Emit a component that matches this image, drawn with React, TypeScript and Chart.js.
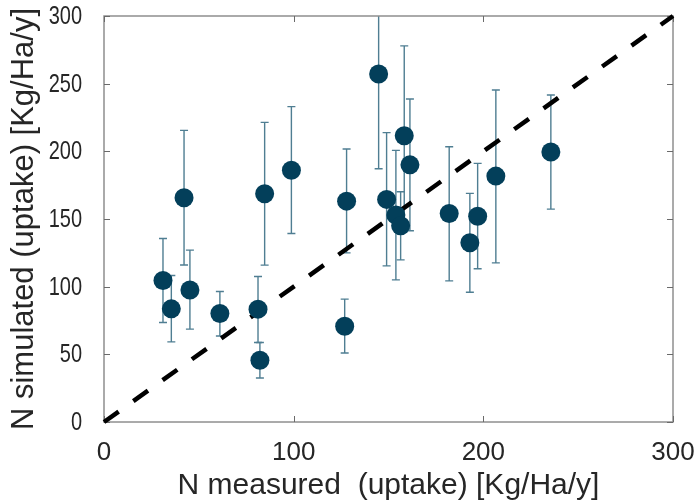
import React, { useEffect, useRef } from "react";
import { Chart, registerables } from "chart.js";

Chart.register(...registerables);

// ---- data ----
const measured = [31.1, 35.5, 42.2, 45.3, 61.1, 81.2, 82.2, 84.7, 98.8, 126.9, 127.9, 144.8, 149.0, 153.9, 156.4, 158.3, 161.3, 182.0, 192.9, 197.0, 206.6, 235.6];
const simulated = [104.6, 83.6, 165.7, 97.6, 80.2, 83.4, 45.6, 168.6, 186.0, 70.8, 163.2, 257.1, 164.5, 152.9, 145.0, 211.5, 190.0, 154.1, 132.4, 152.1, 181.7, 199.5];
const errLow = [73.5, 59.2, 116.0, 68.6, 63.6, 58.7, 32.5, 115.9, 139.3, 51.0, 125.0, 187.1, 115.4, 105.0, 119.8, 145.0, 141.3, 104.3, 95.9, 113.2, 117.6, 157.3];
const errHigh = [135.6, 108.3, 215.5, 127.0, 96.4, 107.5, 58.7, 221.4, 233.0, 90.8, 201.7, 327.0, 213.8, 200.7, 170.1, 277.9, 238.7, 203.4, 168.9, 191.1, 245.3, 241.6];
const identityLine = [0, 300];
const xTickValues = [0, 100, 200, 300];
const yTickValues = [0, 50, 100, 150, 200, 250, 300];
const xTitle = "N measured  (uptake) [Kg/Ha/y]";
const yTitle = "N simulated (uptake) [Kg/Ha/y]";

const TEXT = "#262626";

const errorBars = {
  id: "errorBars",
  beforeDatasetsDraw(chart: any) {
    const { ctx, chartArea: a, scales } = chart;
    const x = scales.x, y = scales.y;
    ctx.save();
    ctx.beginPath();
    ctx.rect(a.left, a.top, a.right - a.left, a.bottom - a.top);
    ctx.clip();
    ctx.strokeStyle = "#4f7e92";
    ctx.lineWidth = 1.4;
    const cap = 4;
    measured.forEach((m, i) => {
      const px = x.getPixelForValue(m);
      const pl = y.getPixelForValue(errLow[i]);
      const ph = y.getPixelForValue(errHigh[i]);
      ctx.beginPath();
      ctx.moveTo(px, pl);
      ctx.lineTo(px, ph);
      ctx.moveTo(px - cap, pl);
      ctx.lineTo(px + cap, pl);
      ctx.moveTo(px - cap, ph);
      ctx.lineTo(px + cap, ph);
      ctx.stroke();
    });
    ctx.restore();

    // frame + inward ticks
    ctx.save();
    ctx.strokeStyle = "#8f8f8f";
    ctx.lineWidth = 1.5;
    ctx.strokeRect(a.left, a.top, a.right - a.left, a.bottom - a.top);
    ctx.strokeStyle = "#6a6a6a";
    ctx.lineWidth = 1;
    const tl = 6;
    ctx.beginPath();
    xTickValues.forEach((v) => {
      const px = Math.round(x.getPixelForValue(v)) + 0.5;
      ctx.moveTo(px, a.bottom);
      ctx.lineTo(px, a.bottom - tl);
      ctx.moveTo(px, a.top);
      ctx.lineTo(px, a.top + tl);
    });
    yTickValues.forEach((v) => {
      const py = Math.round(y.getPixelForValue(v)) + 0.5;
      ctx.moveTo(a.left, py);
      ctx.lineTo(a.left + tl, py);
      ctx.moveTo(a.right, py);
      ctx.lineTo(a.right - tl, py);
    });
    ctx.stroke();
    ctx.restore();

    // condensed y tick labels
    ctx.save();
    ctx.fillStyle = TEXT;
    ctx.font = "25px 'Liberation Sans', Arial, sans-serif";
    ctx.textAlign = "right";
    ctx.textBaseline = "middle";
    yTickValues.forEach((v) => {
      const py = y.getPixelForValue(v);
      ctx.save();
      ctx.translate(a.left - 22, py + 1);
      ctx.scale(0.8, 1);
      ctx.fillText(String(v), 0, 0);
      ctx.restore();
    });
    ctx.restore();
  },
};

export default function App() {
  const ref = useRef<HTMLCanvasElement>(null);
  useEffect(() => {
    if (!ref.current) return;
    const chart = new Chart(ref.current, {
      type: "scatter",
      data: {
        datasets: [
          {
            type: "scatter",
            data: measured.map((m, i) => ({ x: m, y: simulated[i] })),
            backgroundColor: "#033f5a",
            borderWidth: 0,
            pointRadius: 9.5,
            order: 0,
          } as any,
          {
            type: "line",
            data: identityLine.map((v) => ({ x: v, y: v })),
            borderColor: "#000000",
            borderWidth: 4.5,
            borderDash: [18, 18],
            pointRadius: 0,
            fill: false,
            clip: false,
            order: 1,
          } as any,
        ],
      },
      options: {
        responsive: false,
        animation: false,
        layout: { padding: { top: 16, right: 24, left: 0, bottom: 0 } },
        plugins: { legend: { display: false }, tooltip: { enabled: false } },
        scales: {
          x: {
            type: "linear",
            min: 0,
            max: 300,
            afterBuildTicks: (s: any) => {
              s.ticks = xTickValues.map((v) => ({ value: v }));
            },
            afterFit: (s: any) => {
              s.height = 82;
              s.paddingLeft = 0;
              s.paddingRight = 0;
            },
            grid: { display: false, drawTicks: false },
            border: { display: false },
            ticks: {
              padding: 15,
              color: TEXT,
              font: { family: "'Liberation Sans', Arial, sans-serif", size: 26 },
              maxRotation: 0,
            },
            title: {
              display: true,
              text: xTitle,
              color: TEXT,
              font: { family: "'Liberation Sans', Arial, sans-serif", size: 30, weight: "normal" },
              padding: { top: 0, bottom: 0 },
            },
          },
          y: {
            type: "linear",
            min: 0,
            max: 300,
            afterBuildTicks: (s: any) => {
              s.ticks = yTickValues.map((v) => ({ value: v }));
            },
            afterFit: (s: any) => {
              s.width = 104;
              s.paddingTop = 0;
              s.paddingBottom = 0;
            },
            grid: { display: false, drawTicks: false },
            border: { display: false },
            ticks: { display: false },
            title: {
              display: true,
              text: yTitle,
              color: TEXT,
              font: { family: "'Liberation Sans', Arial, sans-serif", size: 31, weight: "normal" },
              padding: { top: 6, bottom: 0 },
            },
          },
        },
      },
      plugins: [errorBars],
    });
    return () => chart.destroy();
  }, []);
  return (
    <canvas
      ref={ref}
      width={697}
      height={504}
      style={{ position: "absolute", left: 0, top: 0, width: 697, height: 504 }}
    />
  );
}
